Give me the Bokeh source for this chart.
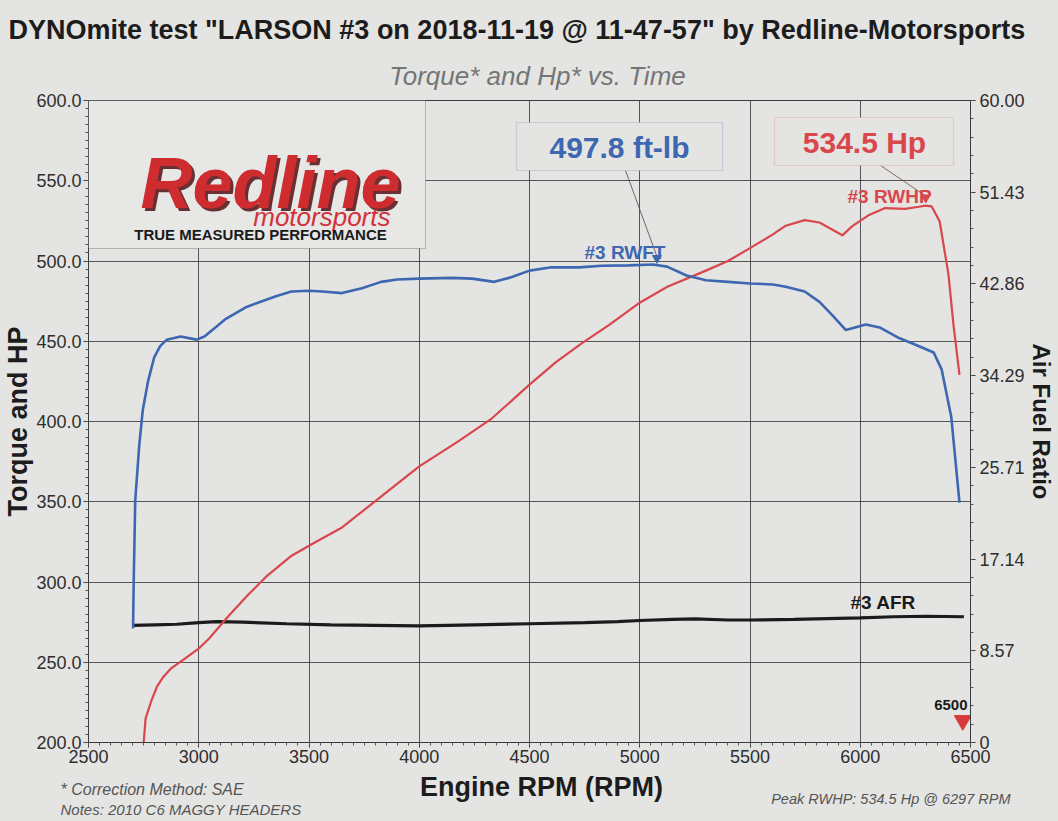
import math
from bokeh.plotting import figure
from bokeh.layouts import column
from bokeh.models import (Range1d, LinearAxis, FixedTicker, NumeralTickFormatter,
                          Label, BoxAnnotation)
from bokeh.core.properties import value
from bokeh.embed import file_html
from bokeh.resources import INLINE

# ---------------- data ----------------
rpm_t = [2702, 2705, 2712, 2730, 2746, 2770, 2798, 2825, 2855, 2917, 2991, 3026, 3070, 3123,
         3211, 3268, 3350, 3420, 3500, 3560, 3650, 3740, 3827, 3900, 4000, 4146, 4240, 4340,
         4420, 4500, 4593, 4726, 4827, 4950, 5058, 5124, 5212, 5300, 5400, 5500, 5604, 5662,
         5748, 5815, 5875, 5935, 6025, 6088, 6176, 6248, 6333, 6369, 6413, 6450]
torque = [271, 300, 351, 385, 407, 425, 440, 447, 451, 453, 451, 453, 458, 464,
          471, 474, 478, 481, 481.5, 481, 480, 483, 487, 488.5, 489, 489.5, 489, 487,
          490, 494, 496, 496, 497, 497.3, 497.8, 496.5, 491, 488, 487, 486, 485.4, 484,
          481, 474.5, 466, 457, 460.5, 458.6, 452, 448, 443, 432.5, 402.6, 349.5]

rpm_h = [2748, 2759, 2785, 2811, 2840, 2873, 2934, 3004, 3048, 3136, 3224, 3311, 3417, 3518,
         3650, 3788, 4000, 4170, 4330, 4500, 4620, 4740, 4860, 5000, 5125, 5300, 5400, 5500,
         5604, 5662, 5748, 5815, 5919, 5964, 6040, 6113, 6203, 6266, 6297, 6324, 6360, 6400,
         6423, 6450]
hp = [196, 215, 226, 235, 241, 246, 252, 259, 265, 279, 292, 304, 316, 324,
      334, 349, 372, 387, 402, 423, 437, 449, 460, 474, 484, 494, 500, 508,
      516.6, 522, 525.5, 524, 516, 521.7, 528.7, 533, 532.5, 533.8, 534.5, 534, 524.8, 491.7,
      460, 429]

rpm_a = [2702, 2800, 2900, 3000, 3080, 3200, 3400, 3600, 4000, 4250, 4500, 4750, 4900,
         5000, 5150, 5250, 5400, 5500, 5700, 5900, 6000, 6150, 6300, 6470]
afr = [10.95, 11.0, 11.05, 11.2, 11.3, 11.25, 11.1, 11.0, 10.9, 11.0, 11.1, 11.2, 11.3,
       11.4, 11.5, 11.55, 11.45, 11.45, 11.5, 11.6, 11.65, 11.75, 11.8, 11.75]

x_tick_labels = ["2500", "3000", "3500", "4000", "4500", "5000", "5500", "6000", "6500"]
y_tick_labels = ["200.0", "250.0", "300.0", "350.0", "400.0", "450.0", "500.0", "550.0", "600.0"]
afr_tick_labels = ["0", "8.57", "17.14", "25.71", "34.29", "42.86", "51.43", "60.00"]

peak_tq_rpm, peak_tq = 5058, 497.8
peak_hp_rpm, peak_hp = 6297, 534.5
max_rpm = 6500

# ---------------- layout ----------------
W = 1058
HEAD_H, MAIN_H, FOOT_H = 92, 678, 51
FL, FR, FT, FB = 88, 970, 100, 742        # frame edges in page pixels
X0, X1, Y0, Y1 = 2500, 6500, 200, 600
PAPER = "#e4e4e2"
BLUE = "#3d67b1"
RED = "#d9464b"
FONT = "Liberation Sans"


def dx(px):
    return X0 + (px - FL) * (X1 - X0) / (FR - FL)


def dy(py):
    return Y0 + (FB - py) * (Y1 - Y0) / (FB - FT)


def no_align(f):
    try:
        f.frame_align = False
    except AttributeError:
        pass


def blank(height, top):
    f = figure(width=W, height=height, output_backend="svg", toolbar_location=None,
               x_range=Range1d(0, W), y_range=Range1d(top + height, top),
               x_axis_type=None, y_axis_type=None, min_border=0,
               min_border_left=0, min_border_right=0, min_border_top=0,
               min_border_bottom=0)
    f.background_fill_color = PAPER
    f.border_fill_color = PAPER
    f.outline_line_color = None
    no_align(f)
    return f


def txt(f, text, x, y, size, color="#1a1a1a", style="normal", align="left",
        baseline="middle", angle=0.0):
    f.text(x=[x], y=[y], text=[text], text_font=value(FONT), text_font_size=f"{size}px",
           text_color=color, text_font_style=style, text_align=align,
           text_baseline=baseline, angle=angle)


# ---------------- header ----------------
head = blank(HEAD_H, 0)
txt(head, 'DYNOmite test "LARSON #3 on 2018-11-19 @ 11-47-57" by Redline-Motorsports',
    8, 29, 27, "#1c1c1c", "bold")
txt(head, "Torque* and Hp* vs. Time", 537, 75, 26, "#757575", "italic", "center")

# ---------------- main chart ----------------
p = figure(width=W, height=MAIN_H, output_backend="svg", toolbar_location=None,
           x_range=Range1d(X0, X1), y_range=Range1d(Y0, Y1),
           min_border_left=FL, min_border_right=W - FR, min_border_top=FT - HEAD_H,
           min_border_bottom=HEAD_H + MAIN_H - FB)
p.extra_y_ranges = {"afr": Range1d(0, 60)}
p.background_fill_color = PAPER
p.border_fill_color = PAPER
p.outline_line_color = "#3a3a3a"
p.outline_line_width = 1
no_align(p)

xt = [int(s) for s in x_tick_labels]
yt = [float(s) for s in y_tick_labels]
p.xgrid.ticker = FixedTicker(ticks=xt)
p.ygrid.ticker = FixedTicker(ticks=yt)
for g in (p.xgrid, p.ygrid):
    g.grid_line_color = "#3c3c3c"
    g.grid_line_width = 1
    g.grid_line_alpha = 0.85

p.xaxis.ticker = FixedTicker(ticks=xt, minor_ticks=[X0 + 50 * i for i in range(81)])
p.yaxis.ticker = FixedTicker(ticks=yt, minor_ticks=[Y0 + 5 * i for i in range(81)])
p.yaxis.formatter = NumeralTickFormatter(format="0.0")
p.xaxis.formatter = NumeralTickFormatter(format="0")

afr_ticks = [float(s) for s in afr_tick_labels]
r_axis = LinearAxis(y_range_name="afr",
                    ticker=FixedTicker(ticks=afr_ticks,
                                       minor_ticks=[i * 60 / 35 for i in range(36)]),
                    formatter=NumeralTickFormatter(format="0.00"),
                    major_label_overrides={0: "0"})
p.add_layout(r_axis, "right")

for ax in (p.xaxis[0], p.yaxis[0], r_axis):
    ax.axis_line_color = "#3a3a3a"
    ax.major_tick_line_color = "#3a3a3a"
    ax.minor_tick_line_color = "#555555"
    ax.major_tick_in = 0
    ax.major_tick_out = 5
    ax.minor_tick_in = 0
    ax.minor_tick_out = 3
    ax.major_label_text_font = FONT
    ax.major_label_text_font_size = "18px"
    ax.major_label_text_color = "#2e2e2e"
    ax.major_label_standoff = 2
    ax.axis_label_text_font = FONT
    ax.axis_label_text_font_style = "bold"
    ax.axis_label_text_color = "#1c1c1c"
    ax.axis_label_standoff = 0
r_axis.major_label_standoff = 4
p.yaxis[0].axis_label = "Torque and HP"
p.yaxis[0].axis_label_text_font_size = "27px"
r_axis.axis_label = "Air Fuel Ratio"
r_axis.axis_label_text_font_size = "24px"

# logo panel (covers the grid)
p.add_layout(BoxAnnotation(left=dx(FL), right=dx(425), top=dy(FT), bottom=dy(248),
                           fill_color="#e7e7e5", fill_alpha=1.0,
                           line_color="#3a3a3a", line_width=1))

# callout boxes
p.add_layout(BoxAnnotation(left=dx(516), right=dx(722), top=dy(122), bottom=dy(170),
                           fill_color=PAPER, fill_alpha=1.0,
                           line_color="#7f95bf", line_width=1.2))
p.add_layout(BoxAnnotation(left=dx(774), right=dx(953), top=dy(117), bottom=dy(165),
                           fill_color=PAPER, fill_alpha=1.0,
                           line_color="#d89090", line_width=1.2))

# curves
p.line(rpm_a, afr, y_range_name="afr", line_color="#1b1b1b", line_width=3.2)
p.line(rpm_h, hp, line_color=RED, line_width=2.2)
p.line(rpm_t, torque, line_color=BLUE, line_width=2.6)

# leader lines and peak markers
p.segment(x0=[dx(625)], y0=[dy(170)], x1=[peak_tq_rpm + 20], y1=[peak_tq + 5],
          line_color="#4a4a4a", line_width=0.8)
p.segment(x0=[dx(880)], y0=[dy(165)], x1=[peak_hp_rpm], y1=[peak_hp + 6],
          line_color="#6a4a4a", line_width=0.8)
p.scatter([peak_tq_rpm + 20], [peak_tq + 4], marker="inverted_triangle", size=9,
          fill_color=BLUE, line_color=BLUE)
p.scatter([peak_hp_rpm], [peak_hp + 5], marker="inverted_triangle", size=9,
          fill_color=RED, line_color=RED)
p.scatter([max_rpm - 35], [dy(720)], marker="inverted_triangle", size=17,
          fill_color="#d63a3a", line_color="#d63a3a")


def lab(text, px, py, size, color="#1a1a1a", style="normal", align="left",
        baseline="middle", alpha=1.0):
    p.add_layout(Label(x=dx(px), y=dy(py), text=text, text_font=FONT,
                       text_font_size=f"{size}px", text_color=color,
                       text_font_style=style, text_align=align,
                       text_baseline=baseline, text_alpha=alpha))


lab("497.8 ft-lb", 619, 147, 30, BLUE, "bold", "center")
lab("534.5 Hp", 864, 142, 30, RED, "bold", "center")
lab("#3 RWFT", 584, 252, 19, BLUE, "bold")
lab("#3 RWHP", 847, 196, 19, RED, "bold")
lab("#3 AFR", 850, 602, 19, "#1a1a1a", "bold")
lab(str(max_rpm), 967, 704, 15, "#1a1a1a", "bold", "right")

# logo
lab("Redline", 143, 185, 72, "#5a1c1e", "bold italic", alpha=0.9)
lab("Redline", 140, 182, 72, "#cf2c30", "bold italic")
lab("motorsports", 390, 216, 26, "#d2303a", "italic", "right")
lab("TRUE MEASURED PERFORMANCE", 260, 234, 15, "#1a1a1a", "bold", "center")

# ---------------- footer ----------------
foot = blank(FOOT_H, HEAD_H + MAIN_H)
txt(foot, "Engine RPM (RPM)", 541, 786, 27, "#1c1c1c", "bold", "center")
txt(foot, "* Correction Method: SAE", 60, 789, 16, "#555555", "italic")
txt(foot, "Notes: 2010 C6 MAGGY HEADERS", 60, 809, 15, "#555555", "italic")
txt(foot, "Peak RWHP: 534.5 Hp @ 6297 RPM", 1010, 798, 14.5, "#555555", "italic", "right")

layout = column(head, p, foot, spacing=0, styles={"background-color": PAPER})
open("out.html", "w").write(file_html(layout, INLINE))
